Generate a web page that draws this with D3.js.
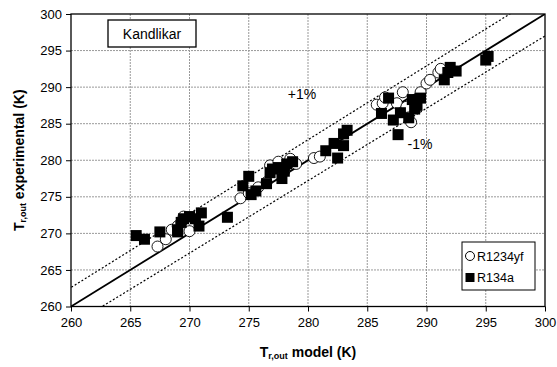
<!DOCTYPE html>
<meta charset="utf-8">
<head>
  <title>Kandlikar</title>
  <style>
    body { margin: 0; background: #fff; }
    text { font-family: "Liberation Sans", Arial, sans-serif; }
  </style>
</head>
<body>
<div id="my_dataviz"></div>
<script src="https://d3js.org/d3.v7.min.js"></script>
<script>

// data (model K, experimental K)
var r1234yfModel = [267.3, 268.0, 268.5, 269.0, 269.3, 270.0, 269.5,
  274.3, 275.0, 275.8, 276.5, 276.8, 277.5, 278.0, 278.5, 279.0, 280.5, 281.0,
  285.8, 286.3, 286.5, 287.5, 288.0, 288.3, 288.7, 289.5, 290.0, 290.3, 291.0, 291.2];
var r1234yfExp = [268.2, 269.2, 270.5, 271.0, 271.5, 270.3, 272.3,
  274.8, 275.5, 276.3, 277.0, 279.3, 279.8, 278.5, 280.2, 279.5, 280.3, 280.5,
  287.6, 287.8, 288.6, 287.8, 289.3, 287.3, 285.2, 289.3, 290.5, 291.0, 292.0, 292.5];

var r134aModel = [265.5, 266.2, 267.5, 269.0, 269.3, 269.5, 270.0, 270.5, 271.0, 270.8, 269.0,
  273.2, 274.5, 275.0, 275.2, 275.6, 276.8, 277.0, 277.5, 278.0, 278.2, 278.7, 277.8, 276.5,
  281.5, 282.2, 282.5, 283.0, 283.3, 283.0,
  286.2, 286.8, 287.2, 287.6, 287.8, 288.5, 289.0, 289.2, 289.5, 288.8,
  291.5, 291.8, 292.0, 292.5, 295.0, 295.2];
var r134aExp = [269.7, 269.2, 270.2, 270.5, 271.5, 272.0, 272.3, 272.0, 272.8, 271.0, 270.2,
  272.2, 276.5, 277.8, 275.3, 275.8, 278.3, 278.8, 279.0, 278.5, 279.5, 279.8, 277.5, 276.8,
  281.3, 282.3, 280.3, 283.6, 284.1, 282.0,
  286.4, 288.5, 285.5, 283.5, 286.5, 285.8, 287.0, 287.5, 288.5, 288.3,
  291.0, 292.0, 292.7, 292.2, 293.7, 294.2];

var ticks = [260, 265, 270, 275, 280, 285, 290, 295, 300];
var bands = [1.01, 1.0, 0.99];
var bandLabels = ["+1%", "-1%"];

var margin = {top: 14, right: 12, bottom: 60.5, left: 71},
    W = 557, H = 367,
    width = W - margin.left - margin.right,
    height = H - margin.top - margin.bottom;

var svg = d3.select("#my_dataviz").append("svg")
    .attr("width", W).attr("height", H);
var g = svg.append("g")
    .attr("transform", "translate(" + margin.left + "," + margin.top + ")");

var x = d3.scaleLinear().domain([260, 300]).range([0, width]);
var y = d3.scaleLinear().domain([260, 300]).range([height, 0]);

// grid
g.append("g").selectAll("line").data(ticks.slice(1, -1)).enter().append("line")
    .attr("x1", 0).attr("x2", width)
    .attr("y1", function(d) { return y(d); }).attr("y2", function(d) { return y(d); })
    .style("stroke", "#999").style("stroke-dasharray", "2,1").style("stroke-width", 1);
g.append("g").selectAll("line").data(ticks.slice(1, -1)).enter().append("line")
    .attr("y1", 0).attr("y2", height)
    .attr("x1", function(d) { return x(d); }).attr("x2", function(d) { return x(d); })
    .style("stroke", "#999").style("stroke-dasharray", "2,1").style("stroke-width", 1);

// clip for lines
g.append("clipPath").attr("id", "clip").append("rect")
    .attr("width", width).attr("height", height);

var lineG = g.append("g").attr("clip-path", "url(#clip)");
bands.forEach(function(k) {
  lineG.append("line")
    .attr("x1", x(250)).attr("y1", y(250 * k))
    .attr("x2", x(310)).attr("y2", y(310 * k))
    .style("stroke", "#000")
    .style("stroke-width", k === 1 ? 1.8 : 1.2)
    .style("stroke-dasharray", k === 1 ? null : "2,2");
});

// points: circles first, squares on top
g.append("g").selectAll("circle").data(r1234yfModel).enter().append("circle")
    .attr("cx", function(d) { return x(d); })
    .attr("cy", function(d, i) { return y(r1234yfExp[i]); })
    .attr("r", 5.5)
    .style("fill", "#fff").style("stroke", "#000").style("stroke-width", 0.9);

var s = 11;
g.append("g").selectAll("rect").data(r134aModel).enter().append("rect")
    .attr("x", function(d) { return x(d) - s / 2; })
    .attr("y", function(d, i) { return y(r134aExp[i]) - s / 2; })
    .attr("width", s).attr("height", s)
    .style("fill", "#000");

// frame
g.append("rect").attr("width", width).attr("height", height)
    .style("fill", "none").style("stroke", "#000").style("stroke-width", 1.3);

// axes
var xAxis = g.append("g").attr("transform", "translate(0," + height + ")")
    .call(d3.axisBottom(x).tickValues(ticks).tickSize(5).tickPadding(6));
var yAxis = g.append("g")
    .call(d3.axisLeft(y).tickValues(ticks).tickSize(5).tickPadding(4));
[xAxis, yAxis].forEach(function(a) {
  a.select(".domain").remove();
  a.selectAll("line").style("stroke", "#000");
  a.selectAll("text").style("font-size", "13px").style("fill", "#000")
    .style("font-family", "'Liberation Sans', Arial, sans-serif");
});

// band labels
g.append("text").attr("x", x(278.3)).attr("y", y(288.4))
    .style("font-size", "14px").text(bandLabels[0]);
g.append("text").attr("x", x(288.4)).attr("y", y(281.6))
    .style("font-size", "14px").text(bandLabels[1]);

// Kandlikar box
g.append("rect").attr("x", 37).attr("y", 6).attr("width", 88).attr("height", 27)
    .style("fill", "#fff").style("stroke", "#000").style("stroke-width", 1.3);
g.append("text").attr("x", 81).attr("y", 25).attr("text-anchor", "middle")
    .style("font-size", "14px").text("Kandlikar");

// legend
var lg = g.append("g").attr("transform", "translate(" + (462 - margin.left) + "," + (242 - margin.top) + ")");
lg.append("rect").attr("width", 73).attr("height", 48)
    .style("fill", "#fff").style("stroke", "#000").style("stroke-width", 1);
lg.append("circle").attr("cx", 8).attr("cy", 14).attr("r", 4.5)
    .style("fill", "#fff").style("stroke", "#000");
lg.append("text").attr("x", 15).attr("y", 19).style("font-size", "12.5px").text("R1234yf");
lg.append("rect").attr("x", 3.5).attr("y", 31).attr("width", 9).attr("height", 9).style("fill", "#000");
lg.append("text").attr("x", 15).attr("y", 40).style("font-size", "12.5px").text("R134a");

// axis titles
var xt = svg.append("text").attr("x", margin.left + width / 2).attr("y", 357)
    .attr("text-anchor", "middle").style("font-weight", "bold").style("font-size", "14px");
xt.append("tspan").text("T");
xt.append("tspan").attr("dy", 2).style("font-size", "9px").text("r,out");
xt.append("tspan").attr("dy", -2).text(" model (K)");

var yt = svg.append("text")
    .attr("transform", "translate(24," + (margin.top + height / 2) + ") rotate(-90)")
    .attr("text-anchor", "middle").style("font-weight", "bold").style("font-size", "14px");
yt.append("tspan").text("T");
yt.append("tspan").attr("dy", 2).style("font-size", "9px").text("r,out");
yt.append("tspan").attr("dy", -2).text(" experimental (K)");

</script>
</body>
</html>
